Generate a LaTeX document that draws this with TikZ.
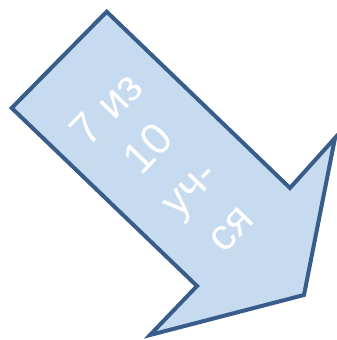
\documentclass[tikz,border=0pt]{standalone}
\usepackage{fontspec}
\setmainfont{Liberation Sans}
\definecolor{arrowfill}{RGB}{198,219,239}
\definecolor{arrowline}{RGB}{56,93,138}
\begin{document}
\begin{tikzpicture}[
    x=1pt, y=-1pt,
    arrowbody/.style={draw=arrowline, fill=arrowfill, line width=4pt, line join=miter},
    arrowtext/.style={text=white, align=center, rotate=46, inner sep=0pt,
        font=\fontsize{44}{57}\selectfont}
]
\useasboundingbox (0,0) rectangle (337,340);

% === Arrow outline ===
\coordinate (tl) at (11.7,108);
\coordinate (tr) at (106.7,11.7);
\coordinate (nu) at (290,188);
\coordinate (hu) at (335,138);
\coordinate (tip) at (304,295);
\coordinate (hl) at (150,335);
\coordinate (nl) at (197,286);

\draw[arrowbody] (tl) -- (tr) -- (nu) -- (hu) -- (tip) -- (hl) -- (nl) -- cycle;

% === Label ===
\node[arrowtext] (label) at (168,168) {7 из\\10\\уч-\\ся};

\end{tikzpicture}
\end{document}
